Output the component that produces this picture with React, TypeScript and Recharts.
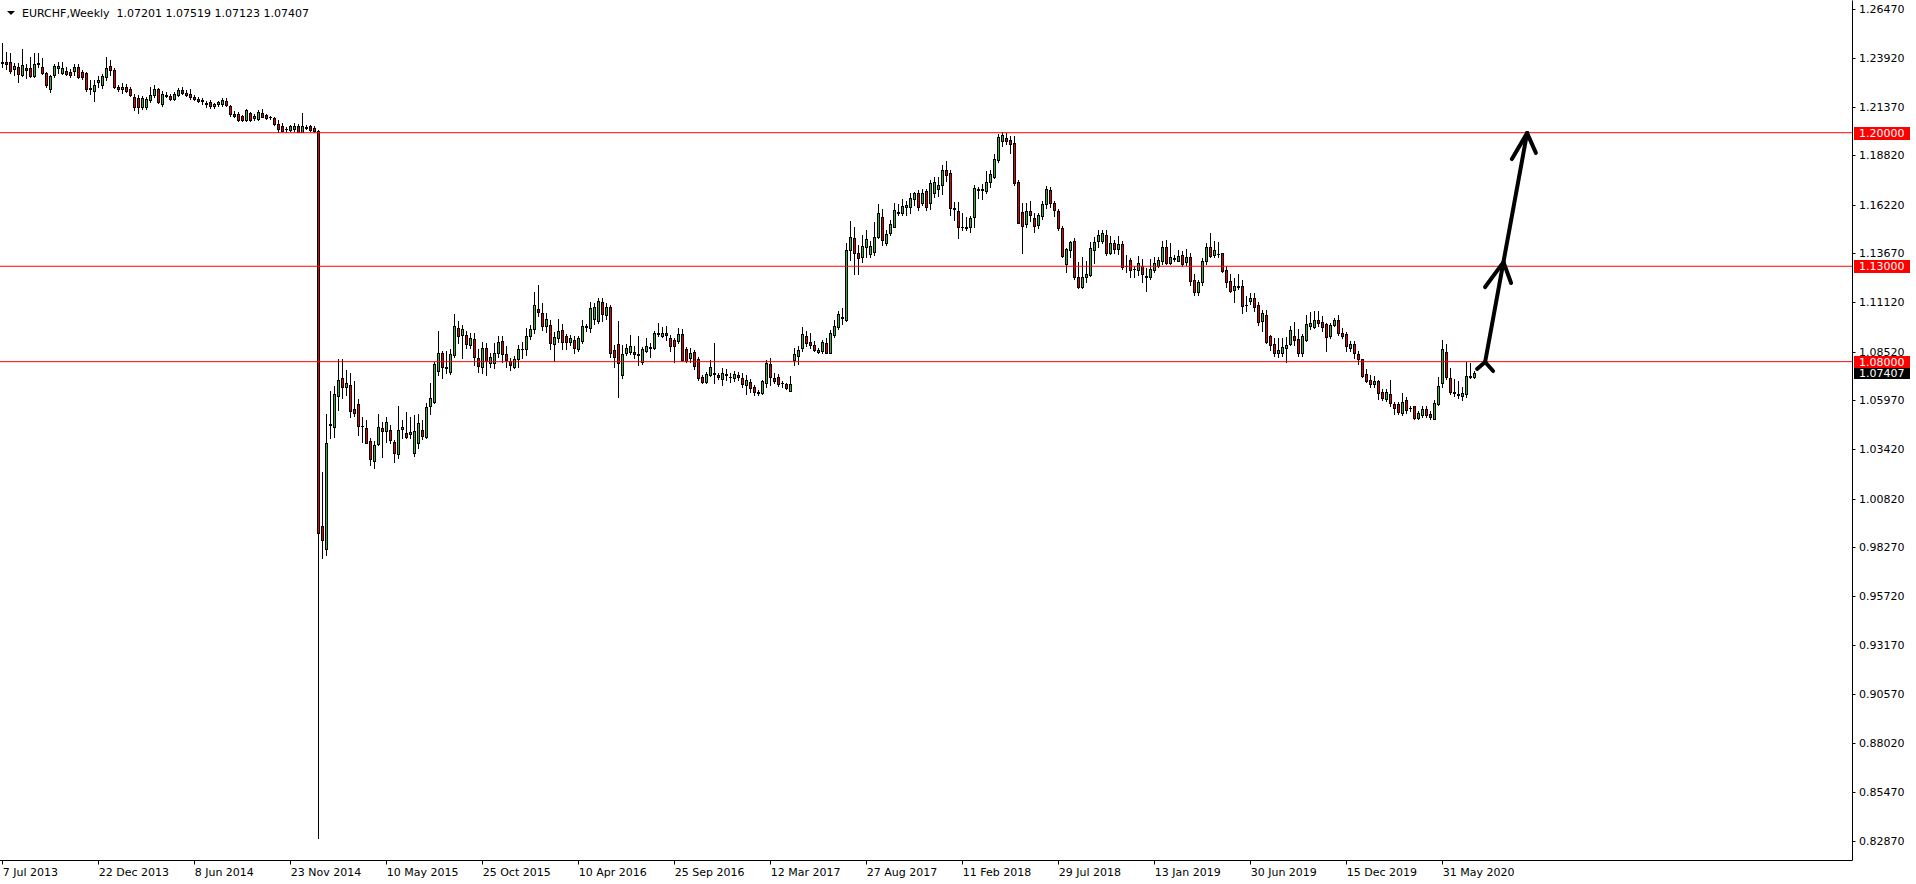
import React from 'react';
import { ComposedChart, Bar, XAxis, YAxis, ReferenceLine } from 'recharts';

// ---- weekly EURCHF candles (bar index 0 = week of 7 Jul 2013) ----
const opens = [
  1.2366,1.2371,1.2372,1.2334,1.2344,1.2303,1.2339,1.2339,1.2297,1.2360,
  1.2344,1.2313,1.2228,1.2300,1.2340,1.2313,1.2325,1.2318,1.2325,1.2345,
  1.2318,1.2313,1.2235,1.2220,1.2266,1.2250,1.2292,1.2350,1.2330,1.2240,
  1.2229,1.2240,1.2229,1.2187,1.2182,1.2135,1.2135,1.2171,1.2198,1.2229,
  1.2151,1.2198,1.2192,1.2177,1.2198,1.2224,1.2208,1.2203,1.2187,1.2177,
  1.2166,1.2156,1.2161,1.2140,1.2150,1.2151,1.2166,1.2140,1.2100,1.2100,
  1.2090,1.2067,1.2103,1.2075,1.2072,1.2103,1.2093,1.2082,1.2075,1.2046,
  1.2035,1.2018,1.2016,1.2018,1.2033,1.2006,1.2030,1.2033,1.2027,1.2010,
  0.9939,0.9817,1.0472,1.0460,1.0622,1.0715,1.0666,1.0679,1.0553,1.0580,
  1.0465,1.0451,1.0385,1.0281,1.0367,1.0450,1.0434,1.0442,1.0381,1.0315,
  1.0446,1.0428,1.0420,1.0320,1.0373,1.0442,1.0404,1.0565,1.0591,1.0753,
  1.0844,1.0770,1.0748,1.0835,1.0975,1.0940,1.0940,1.0888,1.0918,1.0818,
  1.0774,1.0870,1.0795,1.0792,1.0844,1.0908,1.0839,1.0805,1.0774,1.0813,
  1.0865,1.0865,1.0932,1.0970,1.1075,1.1054,1.0988,1.0993,1.0893,1.0923,
  1.0966,1.0935,1.0905,1.0914,1.0865,1.0910,1.0985,1.0975,1.1022,1.1015,
  1.1115,1.1045,1.1088,1.0861,1.0893,1.0731,1.0845,1.0853,1.0850,1.0835,
  1.0797,1.0856,1.0870,1.0870,1.0944,1.0935,1.0950,1.0923,1.0914,1.0910,
  1.0944,1.0865,1.0818,1.0849,1.0813,1.0722,1.0695,1.0731,1.0740,1.0731,
  1.0708,1.0730,1.0718,1.0714,1.0728,1.0714,1.0677,1.0695,1.0666,1.0640,
  1.0635,1.0690,1.0787,1.0714,1.0717,1.0690,1.0684,1.0648,1.0809,1.0830,
  1.0870,1.0935,1.0905,1.0887,1.0853,1.0854,1.0897,1.0848,1.0940,1.0980,
  1.1030,1.1018,1.1385,1.1447,1.1368,1.1350,1.1400,1.1362,1.1376,1.1455,
  1.1557,1.1420,1.1473,1.1508,1.1578,1.1578,1.1613,1.1610,1.1653,1.1683,
  1.1633,1.1696,1.1633,1.1686,1.1704,1.1726,1.1805,1.1791,1.1605,1.1590,
  1.1507,1.1503,1.1507,1.1557,1.1700,1.1703,1.1696,1.1744,1.1770,1.1857,
  1.1958,1.1970,1.1962,1.1945,1.1743,1.1586,1.1521,1.1591,1.1552,1.1517,
  1.1563,1.1625,1.1700,1.1630,1.1590,1.1499,1.1310,1.1383,1.1433,1.1242,
  1.1190,1.1242,1.1255,1.1383,1.1434,1.1434,1.1464,1.1371,1.1423,1.1389,
  1.1417,1.1300,1.1333,1.1285,1.1280,1.1303,1.1247,1.1242,1.1280,1.1300,
  1.1325,1.1400,1.1319,1.1345,1.1330,1.1360,1.1320,1.1350,1.1228,1.1167,
  1.1215,1.1325,1.1400,1.1359,1.1365,1.1368,1.1280,1.1223,1.1175,1.1195,
  1.1197,1.1098,1.1120,1.1136,1.1098,1.1013,1.1045,1.0932,1.0892,1.0844,
  1.0844,1.0870,1.0890,1.0935,1.0920,1.0845,1.0914,1.0987,1.0984,1.1018,
  1.1007,1.0996,1.0935,1.0992,1.1018,1.0952,1.0944,1.0873,1.0893,1.0840,
  1.0813,1.0736,1.0704,1.0683,1.0699,1.0640,1.0603,1.0631,1.0578,1.0578,
  1.0530,1.0599,1.0556,1.0565,1.0504,1.0521,1.0551,1.0527,1.0502,1.0578,
  1.0686,1.0853,1.0713,1.0640,1.0630,1.0620,1.0631,1.0725,1.07201,
];

const highs = [
  1.2470,1.2425,1.2417,1.2366,1.2366,1.2439,1.2360,1.2397,1.2417,1.2417,
  1.2392,1.2318,1.2303,1.2360,1.2371,1.2371,1.2345,1.2334,1.2360,1.2362,
  1.2330,1.2320,1.2276,1.2276,1.2297,1.2308,1.2397,1.2381,1.2340,1.2250,
  1.2260,1.2255,1.2240,1.2203,1.2198,1.2192,1.2187,1.2240,1.2250,1.2234,
  1.2218,1.2215,1.2205,1.2213,1.2235,1.2240,1.2222,1.2229,1.2195,1.2185,
  1.2182,1.2166,1.2170,1.2158,1.2165,1.2182,1.2182,1.2145,1.2115,1.2110,
  1.2095,1.2125,1.2110,1.2100,1.2118,1.2125,1.2100,1.2090,1.2082,1.2067,
  1.2050,1.2030,1.2040,1.2052,1.2045,1.2102,1.2040,1.2038,1.2035,1.2012,
  1.0224,1.0526,1.0647,1.0674,1.0814,1.0814,1.0757,1.0739,1.0699,1.0605,
  1.0512,1.0495,1.0399,1.0386,1.0526,1.0486,1.0512,1.0469,1.0390,1.0570,
  1.0495,1.0538,1.0512,1.0521,1.0525,1.0495,1.0585,1.0687,1.0800,1.0961,
  1.0858,1.0858,1.0865,1.1050,1.1013,1.0993,1.0962,1.0952,1.0949,1.0865,
  1.0903,1.0897,1.0846,1.0900,1.0935,1.0935,1.0880,1.0818,1.0832,1.0886,
  1.0905,1.0975,1.0991,1.1164,1.1202,1.1106,1.1054,1.1018,1.0957,1.1022,
  1.0997,1.0945,1.0942,1.0935,1.0935,1.1018,1.1000,1.1115,1.1109,1.1132,
  1.1133,1.1106,1.1097,1.0888,1.1013,1.0888,1.0890,1.0940,1.0880,1.0935,
  1.0875,1.0925,1.0900,1.0960,1.1002,1.0980,1.0985,1.0940,1.0925,1.0975,
  1.0970,1.0875,1.0870,1.0860,1.0825,1.0730,1.0745,1.0808,1.0900,1.0740,
  1.0767,1.0760,1.0738,1.0750,1.0745,1.0740,1.0730,1.0708,1.0680,1.0650,
  1.0705,1.0808,1.0820,1.0740,1.0735,1.0700,1.0690,1.0724,1.0870,1.0880,
  1.0980,1.0960,1.0950,1.0910,1.0870,1.0913,1.0922,1.0964,1.1017,1.1067,
  1.1080,1.1420,1.1539,1.1508,1.1410,1.1462,1.1490,1.1430,1.1534,1.1626,
  1.1600,1.1490,1.1542,1.1632,1.1626,1.1650,1.1640,1.1685,1.1690,1.1700,
  1.1706,1.1706,1.1752,1.1768,1.1768,1.1832,1.1852,1.1805,1.1637,1.1638,
  1.1580,1.1560,1.1563,1.1727,1.1718,1.1733,1.1800,1.1805,1.1889,1.1994,
  1.2003,1.1996,1.1983,1.1985,1.1750,1.1630,1.1630,1.1640,1.1580,1.1580,
  1.1640,1.1720,1.1715,1.1640,1.1600,1.1510,1.1395,1.1430,1.1450,1.1320,
  1.1350,1.1330,1.1426,1.1455,1.1490,1.1490,1.1490,1.1460,1.1440,1.1460,
  1.1430,1.1360,1.1345,1.1300,1.1352,1.1340,1.1290,1.1340,1.1350,1.1350,
  1.1430,1.1440,1.1420,1.1360,1.1385,1.1380,1.1390,1.1370,1.1260,1.1230,
  1.1345,1.1420,1.1476,1.1430,1.1425,1.1372,1.1300,1.1260,1.1237,1.1260,
  1.1230,1.1145,1.1160,1.1158,1.1115,1.1070,1.1070,1.0940,1.0925,1.0925,
  1.0925,1.0930,1.0985,1.1010,1.0970,1.0945,1.1045,1.1060,1.1068,1.1068,
  1.1040,1.1005,1.1005,1.1030,1.1045,1.0975,1.0955,1.0910,1.0910,1.0855,
  1.0816,1.0760,1.0730,1.0725,1.0705,1.0655,1.0655,1.0705,1.0590,1.0590,
  1.0635,1.0615,1.0570,1.0570,1.0540,1.0565,1.0565,1.0540,1.0600,1.0722,
  1.0914,1.0893,1.0766,1.0709,1.0700,1.0665,1.0800,1.0793,1.07519,
];

const lows = [
  1.2344,1.2334,1.2313,1.2303,1.2266,1.2297,1.2287,1.2292,1.2292,1.2344,
  1.2308,1.2240,1.2213,1.2290,1.2313,1.2308,1.2300,1.2290,1.2300,1.2285,
  1.2280,1.2220,1.2203,1.2166,1.2240,1.2234,1.2276,1.2300,1.2234,1.2220,
  1.2208,1.2213,1.2190,1.2119,1.2103,1.2124,1.2124,1.2161,1.2187,1.2156,
  1.2140,1.2185,1.2170,1.2170,1.2190,1.2203,1.2190,1.2177,1.2170,1.2160,
  1.2150,1.2135,1.2130,1.2130,1.2140,1.2140,1.2140,1.2088,1.2080,1.2060,
  1.2060,1.2060,1.2060,1.2065,1.2065,1.2080,1.2070,1.2070,1.2040,1.2006,
  1.2008,1.2006,1.2008,1.2010,1.2005,1.2004,1.2020,1.2010,1.2005,0.8304,
  0.9773,0.9787,1.0400,1.0407,1.0547,1.0609,1.0627,1.0512,1.0516,1.0416,
  1.0381,1.0373,1.0259,1.0244,1.0364,1.0302,1.0381,1.0376,1.0276,1.0294,
  1.0399,1.0402,1.0399,1.0307,1.0350,1.0394,1.0399,1.0526,1.0585,1.0731,
  1.0713,1.0740,1.0734,1.0827,1.0897,1.0821,1.0870,1.0870,1.0783,1.0748,
  1.0742,1.0731,1.0771,1.0766,1.0826,1.0800,1.0771,1.0756,1.0765,1.0770,
  1.0820,1.0835,1.0920,1.0952,1.1040,1.0966,1.0956,1.0865,1.0805,1.0905,
  1.0868,1.0868,1.0885,1.0844,1.0855,1.0900,1.0960,1.0957,1.0997,1.1002,
  1.1015,1.1025,1.0826,1.0774,1.0617,1.0713,1.0835,1.0840,1.0820,1.0783,
  1.0790,1.0850,1.0823,1.0865,1.0935,1.0930,1.0914,1.0858,1.0800,1.0900,
  1.0805,1.0800,1.0800,1.0762,1.0703,1.0686,1.0686,1.0723,1.0687,1.0710,
  1.0680,1.0702,1.0693,1.0700,1.0705,1.0667,1.0631,1.0642,1.0625,1.0625,
  1.0630,1.0667,1.0680,1.0690,1.0670,1.0665,1.0655,1.0645,1.0780,1.0790,
  1.0855,1.0880,1.0870,1.0855,1.0848,1.0848,1.0844,1.0846,1.0928,1.0970,
  1.1000,1.1013,1.1333,1.1258,1.1258,1.1320,1.1350,1.1350,1.1360,1.1450,
  1.1413,1.1413,1.1466,1.1505,1.1570,1.1570,1.1570,1.1580,1.1620,1.1595,
  1.1620,1.1596,1.1600,1.1665,1.1670,1.1680,1.1748,1.1569,1.1542,1.1447,
  1.1490,1.1490,1.1480,1.1507,1.1660,1.1650,1.1686,1.1716,1.1765,1.1848,
  1.1931,1.1940,1.1895,1.1725,1.1525,1.1368,1.1505,1.1535,1.1481,1.1500,
  1.1550,1.1605,1.1610,1.1565,1.1490,1.1350,1.1270,1.1350,1.1235,1.1185,
  1.1185,1.1215,1.1250,1.1315,1.1400,1.1420,1.1360,1.1365,1.1370,1.1365,
  1.1285,1.1270,1.1245,1.1245,1.1255,1.1220,1.1172,1.1235,1.1270,1.1295,
  1.1310,1.1310,1.1310,1.1328,1.1325,1.1300,1.1305,1.1200,1.1150,1.1150,
  1.1200,1.1310,1.1350,1.1350,1.1350,1.1270,1.1190,1.1165,1.1115,1.1180,
  1.1054,1.1067,1.1100,1.1065,1.0990,1.0960,1.0900,1.0860,1.0830,1.0825,
  1.0830,1.0800,1.0885,1.0885,1.0830,1.0830,1.0910,1.0970,1.0975,1.0985,
  1.0960,1.0858,1.0925,1.0985,1.0940,1.0923,1.0857,1.0857,1.0818,1.0790,
  1.0722,1.0695,1.0665,1.0665,1.0603,1.0600,1.0593,1.0570,1.0526,1.0526,
  1.0520,1.0530,1.0540,1.0500,1.0497,1.0510,1.0510,1.0500,1.0500,1.0573,
  1.0669,1.0708,1.0631,1.0621,1.0610,1.0600,1.0613,1.0712,1.07123,
];

const closes = [
  1.2371,1.2362,1.2325,1.2350,1.2308,1.2355,1.2328,1.2297,1.2360,1.2366,
  1.2313,1.2250,1.2297,1.2350,1.2350,1.2339,1.2308,1.2303,1.2345,1.2292,
  1.2292,1.2229,1.2228,1.2250,1.2276,1.2297,1.2339,1.2330,1.2240,1.2229,
  1.2240,1.2220,1.2198,1.2135,1.2135,1.2182,1.2177,1.2198,1.2229,1.2161,
  1.2203,1.2192,1.2177,1.2203,1.2224,1.2208,1.2200,1.2187,1.2177,1.2166,
  1.2172,1.2153,1.2140,1.2152,1.2160,1.2171,1.2145,1.2100,1.2090,1.2067,
  1.2067,1.2119,1.2067,1.2088,1.2109,1.2082,1.2077,1.2080,1.2046,1.2020,
  1.2010,1.2020,1.2033,1.2035,1.2006,1.2035,1.2025,1.2016,1.2009,0.9901,
  0.9866,1.0373,1.0468,1.0631,1.0704,1.0666,1.0687,1.0543,1.0533,1.0465,
  1.0462,1.0376,1.0289,1.0364,1.0457,1.0434,1.0483,1.0390,1.0320,1.0442,
  1.0460,1.0404,1.0432,1.0439,1.0477,1.0412,1.0561,1.0609,1.0788,1.0844,
  1.0774,1.0765,1.0839,1.0987,1.0935,1.0972,1.0893,1.0923,1.0826,1.0778,
  1.0870,1.0805,1.0826,1.0844,1.0905,1.0839,1.0810,1.0783,1.0813,1.0865,
  1.0868,1.0935,1.0970,1.1097,1.1062,1.0989,1.1022,1.0897,1.0928,1.0963,
  1.0905,1.0905,1.0923,1.0870,1.0923,1.0987,1.0981,1.1080,1.1085,1.1120,
  1.1050,1.1085,1.0848,1.0826,1.0795,1.0839,1.0870,1.0883,1.0838,1.0838,
  1.0865,1.0882,1.0878,1.0952,1.0948,1.0950,1.0938,1.0884,1.0884,1.0944,
  1.0809,1.0806,1.0844,1.0778,1.0716,1.0695,1.0735,1.0771,1.0736,1.0720,
  1.0740,1.0735,1.0720,1.0736,1.0720,1.0684,1.0704,1.0664,1.0640,1.0636,
  1.0700,1.0792,1.0718,1.0701,1.0682,1.0686,1.0662,1.0682,1.0839,1.0861,
  1.0945,1.0900,1.0888,1.0861,1.0860,1.0902,1.0848,1.0950,1.0989,1.1048,
  1.1035,1.1385,1.1452,1.1371,1.1345,1.1406,1.1443,1.1405,1.1455,1.1578,
  1.1438,1.1467,1.1520,1.1595,1.1586,1.1616,1.1620,1.1657,1.1686,1.1610,
  1.1686,1.1610,1.1738,1.1743,1.1726,1.1805,1.1779,1.1604,1.1600,1.1507,
  1.1505,1.1507,1.1552,1.1709,1.1705,1.1702,1.1740,1.1784,1.1860,1.1976,
  1.1988,1.1958,1.1941,1.1738,1.1529,1.1511,1.1591,1.1569,1.1511,1.1569,
  1.1625,1.1705,1.1630,1.1595,1.1499,1.1356,1.1389,1.1426,1.1242,1.1193,
  1.1242,1.1260,1.1395,1.1426,1.1464,1.1473,1.1368,1.1420,1.1389,1.1417,
  1.1295,1.1303,1.1280,1.1287,1.1316,1.1260,1.1245,1.1286,1.1315,1.1333,
  1.1400,1.1319,1.1350,1.1340,1.1355,1.1312,1.1347,1.1225,1.1163,1.1216,
  1.1328,1.1400,1.1354,1.1385,1.1364,1.1277,1.1219,1.1172,1.1197,1.1193,
  1.1093,1.1095,1.1133,1.1088,1.1010,1.1054,1.0905,1.0888,1.0848,1.0861,
  1.0878,1.0885,1.0966,1.0914,1.0845,1.0932,1.0996,1.1005,1.1018,1.1005,
  1.0984,1.0931,1.0992,1.1018,1.0949,1.0935,1.0882,1.0893,1.0844,1.0814,
  1.0727,1.0701,1.0683,1.0700,1.0635,1.0609,1.0640,1.0582,1.0556,1.0538,
  1.0591,1.0547,1.0555,1.0507,1.0530,1.0551,1.0521,1.0509,1.0582,1.0673,
  1.0865,1.0718,1.0643,1.0638,1.0626,1.0635,1.0725,1.0720,1.07407,
];

// time scale labels (one every 24 weekly bars)
const xTickIndex = [0, 24, 48, 72, 96, 120, 144, 168, 192, 216, 240, 264, 288, 312, 336, 360];
const xTickLabels = [
  '7 Jul 2013', '22 Dec 2013', '8 Jun 2014', '23 Nov 2014', '10 May 2015', '25 Oct 2015',
  '10 Apr 2016', '25 Sep 2016', '12 Mar 2017', '27 Aug 2017', '11 Feb 2018', '29 Jul 2018',
  '13 Jan 2019', '30 Jun 2019', '15 Dec 2019', '31 May 2020',
];

// price scale labels
const yTicks = [
  1.2647, 1.2392, 1.2137, 1.1882, 1.1622, 1.1367, 1.1112, 1.0852, 1.0597,
  1.0342, 1.0082, 0.9827, 0.9572, 0.9317, 0.9057, 0.8802, 0.8547, 0.8287,
];

// horizontal levels and current price
const levels = [1.2, 1.13, 1.08];
const lastPrice = 1.07407;
const titleText = 'EURCHF,Weekly  1.07201 1.07519 1.07123 1.07407';

// hand-drawn arrow annotation: [barIndex, price] pairs
const arrowSegments: [number, number][][] = [
  [[370.6, 1.0798], [381.1, 1.1998]],
  [[370.6, 1.0798], [368.6, 1.0762]],
  [[370.6, 1.0798], [372.6, 1.0751]],
  [[370.6, 1.1191], [375.2, 1.1322]],
  [[375.2, 1.1322], [377.1, 1.1212]],
  [[377.3, 1.1862], [381.1, 1.1998]],
  [[381.1, 1.1998], [383.3, 1.1894]],
];

const X_DOMAIN: [number, number] = [-0.675, 462.45];
const Y_DOMAIN: [number, number] = [0.81855, 1.26929];

const GREEN = '#32b432';
const RED = '#e00000';
const FONT = 'DejaVu Sans, Verdana, sans-serif';

const bars = opens.map((o, i) => ({
  i,
  o,
  h: highs[i],
  l: lows[i],
  c: closes[i],
  range: [lows[i], highs[i]],
}));

const Candle = (props: any) => {
  const { x, y, width, height, payload } = props;
  if (x == null || y == null || !payload) return null;
  const { o, h, l, c } = payload;
  const top = Math.min(y, y + height);
  const hgt = Math.abs(height);
  const cx = x + width / 2;
  const col = Math.floor(cx);
  const k = h - l > 0 ? hgt / (h - l) : 0;
  const yOf = (p: number) => top + (h - p) * k;
  const bTop = Math.round(yOf(Math.max(o, c)));
  const bBot = Math.round(yOf(Math.min(o, c)));
  const yh = Math.round(top);
  const yl = Math.round(top + hgt);
  const up = c >= o;
  return (
    <g>
      <line x1={col + 0.5} x2={col + 0.5} y1={yh} y2={yl + 1} stroke="#000" strokeWidth={1} />
      {bBot - bTop < 1 ? (
        <line x1={col - 1} x2={col + 2} y1={bTop + 0.5} y2={bTop + 0.5} stroke="#000" strokeWidth={1} />
      ) : (
        <rect x={col - 0.5} y={bTop + 0.5} width={2} height={bBot - bTop} fill={up ? GREEN : RED} stroke="#000" strokeWidth={1} />
      )}
    </g>
  );
};

const XTick = (props: any) => {
  const { x, y, payload } = props;
  const idx = xTickIndex.indexOf(payload.value);
  const label = idx >= 0 ? xTickLabels[idx] : '';
  const col = Math.floor(x) + 0.5;
  return (
    <g>
      <line x1={col} x2={col} y1={y} y2={y + 4} stroke="#000" strokeWidth={1} />
      <text x={x} y={y + 15} fontSize={11} fontFamily={FONT} fill="#000" textAnchor="start">
        {label}
      </text>
    </g>
  );
};

const YTick = (props: any) => {
  const { x, y, payload } = props;
  const row = Math.round(y) + 0.5;
  return (
    <g>
      <line x1={x} x2={x + 3} y1={row} y2={row} stroke="#000" strokeWidth={1} />
      <text x={x + 6.5} y={y + 4} fontSize={11} fontFamily={FONT} fill="#000" textAnchor="start">
        {Number(payload.value).toFixed(5)}
      </text>
    </g>
  );
};

const PriceTag = (props: any) => {
  const { viewBox, text, bg, boxH } = props;
  if (!viewBox) return null;
  const left = Math.floor(viewBox.x + viewBox.width) + 2;
  const cy = Math.round(viewBox.y);
  const hh = boxH || 13;
  return (
    <g>
      <rect x={left} y={cy - Math.floor(hh / 2)} width={56} height={hh} fill={bg} />
      <text x={left + 5} y={cy + 4} fontSize={11} fontFamily={FONT} fill="#fff" textAnchor="start">
        {text}
      </text>
    </g>
  );
};

export default function App() {
  return (
    <div style={{ position: 'absolute', left: 0, top: 0, width: 1916, height: 884, background: '#fff', overflow: 'hidden' }}>
      <ComposedChart width={1916} height={884} data={bars} margin={{ top: 0.5, right: 0, bottom: 0, left: 0 }}>
        <XAxis
          dataKey="i"
          type="number"
          domain={X_DOMAIN}
          allowDataOverflow
          ticks={xTickIndex}
          interval={0}
          tickSize={0}
          tickMargin={0}
          tickLine={false}
          axisLine={{ stroke: '#000', strokeWidth: 1 }}
          height={23.5}
          tick={<XTick />}
        />
        <YAxis
          orientation="right"
          type="number"
          domain={Y_DOMAIN}
          allowDataOverflow
          ticks={yTicks}
          interval={0}
          width={63.5}
          tickSize={0}
          tickMargin={0}
          tickLine={false}
          axisLine={{ stroke: '#000', strokeWidth: 1 }}
          tick={<YTick />}
        />
        {levels.map((lv) => (
          <ReferenceLine
            key={'lv' + lv}
            y={lv}
            stroke="#ff0000"
            strokeWidth={1}
            label={<PriceTag text={lv.toFixed(5)} bg="#ff0000" />}
          />
        ))}
        <Bar dataKey="range" isAnimationActive={false} shape={(p: any) => <Candle {...p} />} />
        <ReferenceLine
          y={lastPrice}
          stroke="#000"
          strokeOpacity={0}
          label={<PriceTag text={lastPrice.toFixed(5)} bg="#000" boxH={11} />}
        />
        {arrowSegments.map((seg, k) => (
          <ReferenceLine
            key={'arr' + k}
            segment={[{ x: seg[0][0], y: seg[0][1] }, { x: seg[1][0], y: seg[1][1] }]}
            stroke="#000"
            strokeWidth={4}
            strokeLinecap="round"
          />
        ))}
      </ComposedChart>
      <svg width={1916} height={884} style={{ position: 'absolute', left: 0, top: 0, pointerEvents: 'none' }}>
        <polygon points="7,11 15,11 11,15" fill="#000" />
        <text x={22} y={17} fontSize={11} fontFamily={FONT} fill="#000" style={{ whiteSpace: 'pre' }}>
          {titleText}
        </text>
      </svg>
    </div>
  );
}
